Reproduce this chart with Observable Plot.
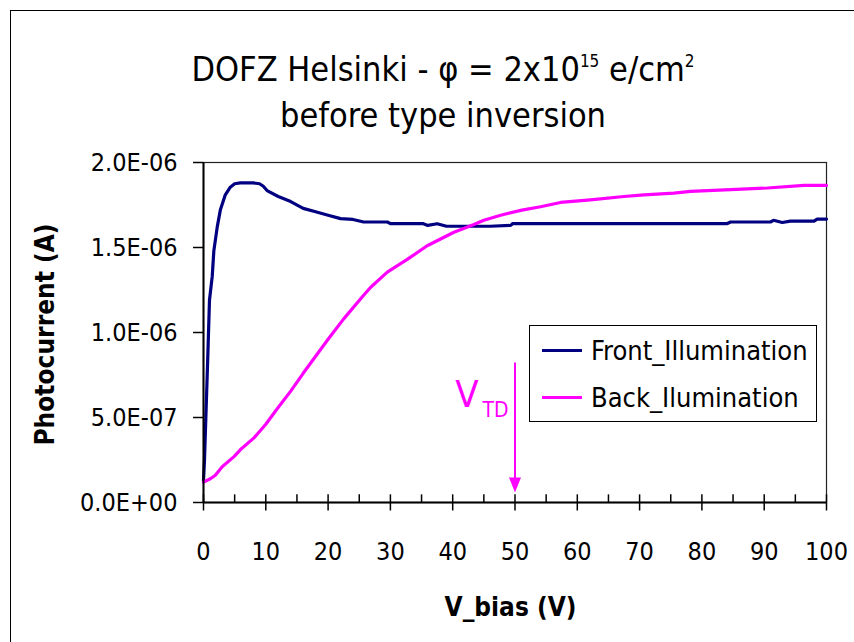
<!DOCTYPE html>
<html>
<head>
<meta charset="utf-8">
<script src="https://cdn.jsdelivr.net/npm/d3@7"></script>
<script src="https://cdn.jsdelivr.net/npm/@observablehq/plot@0.6"></script>
<style>
  body { margin: 0; background: #fff; width: 854px; height: 642px; overflow: hidden; position: relative;
         font-family: "DejaVu Sans Condensed", "DejaVu Sans", sans-serif; }
  #border { position: absolute; left: 10px; top: 10px; width: 900px; height: 700px; border: 1.5px solid #000; }
  #chart { position: absolute; left: 0; top: 0; }
  .title { position: absolute; left: 443px; transform: translateX(-50%); white-space: nowrap;
           font-size: 34px; line-height: 34px; color: #000; }
  .title sup { font-size: 0.5em; vertical-align: 0.8em; line-height: 0; }
  #legend { position: absolute; left: 529px; top: 325px; width: 288px; height: 97px; box-sizing: border-box;
            border: 1px solid #000; background: #fff; }
  .item { position: absolute; left: 12px; height: 0; }
  .swatch { position: absolute; left: 0; top: -1.5px; width: 40px; height: 3px; }
  .lab { position: absolute; left: 49px; top: -13px; font-size: 27px; line-height: 27px;
         white-space: nowrap; color: #000; }
</style>
</head>
<body>
<div id="border"></div>
<div id="chart"></div>
<div class="title" style="top:52px">DOFZ Helsinki - &phi; = 2x10<sup>15</sup> e/cm<sup>2</sup></div>
<div class="title" style="top:98px">before type inversion</div>
<div id="legend"></div>
<script>
// Photocurrent vs bias voltage, front and back illumination (V, A)
const frontV = [0, 0.16, 0.5, 0.7, 0.96, 1.4, 1.66, 2.2, 2.7, 3.5, 4.3, 5.0, 5.9, 8.0, 9.0, 9.6, 10.2, 12, 14, 16,
  18, 20, 22, 24, 25.7, 29.5, 30, 35.3, 36, 37.5, 39, 46, 49.3, 49.6, 84, 84.6, 91, 91.5, 92.9, 94.2, 98, 98.5, 100];
const frontI = [0.13, 0.25, 0.64, 0.87, 1.19, 1.33, 1.48, 1.62, 1.72, 1.81, 1.855, 1.875, 1.88, 1.88, 1.875, 1.86, 1.835,
  1.80, 1.77, 1.73, 1.71, 1.69, 1.67, 1.665, 1.65, 1.65, 1.64, 1.64, 1.63, 1.64, 1.625, 1.625, 1.63, 1.64, 1.64, 1.65,
  1.65, 1.66, 1.647, 1.655, 1.655, 1.667, 1.667].map(d => d * 1e-6);

const backV = [0, 1.1, 1.9, 3.0, 4.9, 5.9, 8.1, 10, 11.8, 14, 16, 18, 20, 22.5, 25.5, 26.8, 29.5, 32.7, 35.9,
  40.2, 43.4, 45, 47.7, 51.1, 54.1, 57.3, 62.1, 67.5, 70.7, 75.5, 78.2, 84.6, 90.5, 96.4, 100];
const backI = [0.12, 0.14, 0.16, 0.21, 0.27, 0.31, 0.38, 0.46, 0.55, 0.655, 0.76, 0.86, 0.96, 1.08, 1.21, 1.265,
  1.355, 1.43, 1.51, 1.59, 1.635, 1.66, 1.69, 1.72, 1.74, 1.765, 1.78, 1.80, 1.81, 1.82, 1.83, 1.84, 1.85, 1.865,
  1.865].map(d => d * 1e-6);

const seriesNames = ["Front_Illumination", "Back_Ilumination"];
const seriesColors = ["#000080", "#FF00FF"];

// axis ticks
const xTicks = [0, 10, 20, 30, 40, 50, 60, 70, 80, 90, 100];
const xTickLabels = ["0", "10", "20", "30", "40", "50", "60", "70", "80", "90", "100"];
const xMinorTicks = [5, 15, 25, 35, 45, 55, 65, 75, 85, 95];
const yTicks = [0, 0.5e-6, 1.0e-6, 1.5e-6, 2.0e-6];
const yTickLabels = ["0.0E+00", "5.0E-07", "1.0E-06", "1.5E-06", "2.0E-06"];

// type-inversion voltage marker
const vTD = 50;
const vTDArrowTop = 0.82e-6;
const vTDArrowHead = 0.103e-6;

const FONT = '"DejaVu Sans Condensed", "DejaVu Sans", sans-serif';

const front = frontV.map((v, i) => ({v, i: frontI[i]}));
const back = backV.map((v, i) => ({v, i: backI[i]}));

// narrow downward-pointing arrowhead
const arrowHead = {
  draw(ctx, size) {
    const r = Math.sqrt(size / Math.PI);
    ctx.moveTo(0, r);
    ctx.lineTo(-0.8 * r, -r);
    ctx.lineTo(0.8 * r, -r);
    ctx.closePath();
  }
};

const chart = Plot.plot({
  width: 854,
  height: 642,
  marginLeft: 203,
  marginRight: 28,
  marginTop: 162,
  marginBottom: 140,
  style: {fontFamily: FONT, fontSize: "25px", color: "#000", background: "transparent", overflow: "visible"},
  x: {domain: [0, 100]},
  y: {domain: [0, 2e-6]},
  marks: [
    Plot.frame({stroke: "#222", strokeWidth: 1.2}),
    Plot.line(front, {x: "v", y: "i", stroke: seriesColors[0], strokeWidth: 3.2, strokeLinejoin: "round"}),
    Plot.line(back, {x: "v", y: "i", stroke: seriesColors[1], strokeWidth: 3.2, strokeLinejoin: "round"}),
    Plot.ruleX([0], {stroke: "#000", strokeWidth: 2}),
    Plot.ruleY([0], {stroke: "#000", strokeWidth: 2}),
    Plot.ruleX(xMinorTicks, {y1: 0, y2: 0.045e-6, stroke: "#000", strokeWidth: 1.5}),
    Plot.ruleX(xTicks, {y1: -0.05e-6, y2: 0.045e-6, stroke: "#000", strokeWidth: 1.5}),
    Plot.axisX(xTicks, {tickSize: 0, tickPadding: 40, label: null,
      tickFormat: d => xTickLabels[xTicks.indexOf(d)]}),
    Plot.axisY(yTicks, {tickSize: 10, tickPadding: 16, label: null, strokeWidth: 1.5,
      tickFormat: d => yTickLabels[yTicks.indexOf(d)]}),
    Plot.text(["Photocurrent (A)"], {frameAnchor: "left", textAnchor: "middle", lineAnchor: "middle",
      dx: -158, dy: 2, rotate: -90, fontSize: 26, fontWeight: "bold"}),
    Plot.text(["V_bias (V)"], {frameAnchor: "bottom", textAnchor: "middle", lineAnchor: "middle",
      dx: -4.5, dy: 105, fontSize: 26, fontWeight: "bold"}),
    // V_TD annotation
    Plot.ruleX([vTD], {y1: vTDArrowTop, y2: vTDArrowHead, stroke: seriesColors[1], strokeWidth: 2}),
    Plot.dot([vTD], {x: d => d, y: vTDArrowHead, symbol: arrowHead, r: 7.5, fill: seriesColors[1], stroke: "none"}),
    Plot.text([vTD], {x: d => d, y: 0, text: () => "V", dx: -48, dy: -108, fontSize: 38, fill: seriesColors[1]}),
    Plot.text([vTD], {x: d => d, y: 0, text: () => "TD", dx: -19.5, dy: -92.5, fontSize: 21, fill: seriesColors[1]})
  ]
});

document.getElementById("chart").append(chart);

// legend
const legend = document.getElementById("legend");
seriesNames.forEach((name, k) => {
  const item = document.createElement("div");
  item.className = "item";
  item.style.top = (24 + 47 * k) + "px";
  const sw = document.createElement("div");
  sw.className = "swatch";
  sw.style.background = seriesColors[k];
  const lab = document.createElement("div");
  lab.className = "lab";
  lab.textContent = name;
  item.append(sw, lab);
  legend.append(item);
});
</script>
</body>
</html>
